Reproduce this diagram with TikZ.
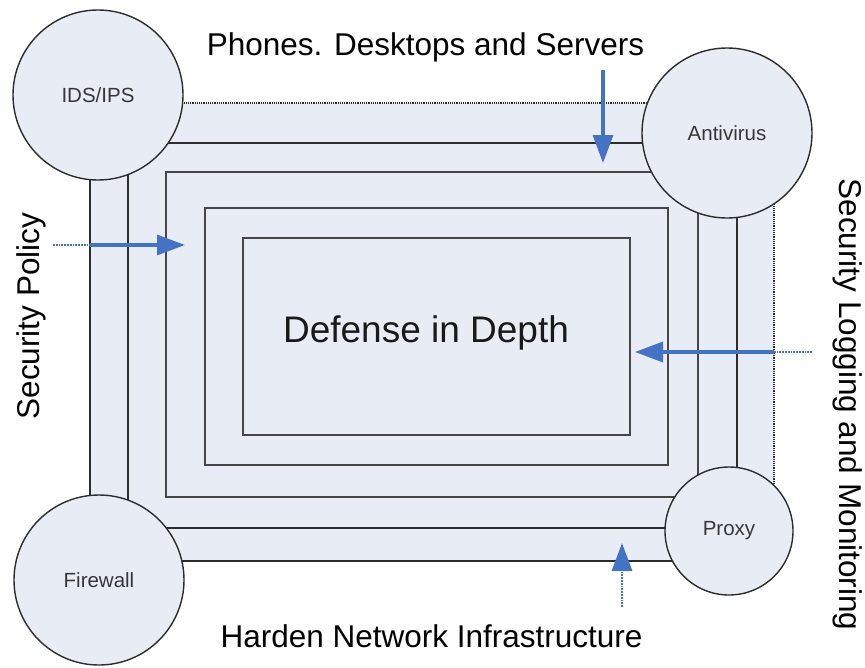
\documentclass[tikz,border=0pt]{standalone}
\usepackage{fontspec}
\setmainfont{Liberation Sans}
\usetikzlibrary{arrows.meta}
\definecolor{layerfill}{RGB}{231,236,245}
\definecolor{linegray}{RGB}{45,45,45}
\definecolor{innergray}{RGB}{70,70,70}
\definecolor{labelgray}{RGB}{55,55,55}
\definecolor{arrowblue}{RGB}{68,114,196}
\tikzset{
  layer/.style={rectangle, fill=layerfill, draw=innergray, line width=1.6pt, inner sep=0pt, outer sep=0pt},
  circ/.style={circle, fill=layerfill, draw=linegray, line width=1.4pt, inner sep=0pt, font=\fontsize{20.5}{24}\selectfont, text=labelgray},
  biglabel/.style={font=\fontsize{31.5}{36}\selectfont, text=black, inner sep=0pt, anchor=base},
  bluearrow/.style={draw=arrowblue, line width=3.2pt, -{Triangle[length=28pt,width=20pt]}},
  bluedots/.style={draw=arrowblue, line width=1.8pt, densely dotted},
}
\begin{document}
\begin{tikzpicture}[x=1pt,y=-1pt]
\useasboundingbox (0,0) rectangle (865,667);
% outer layer
\node[layer, draw=none, minimum width=684pt, minimum height=458pt] (L1) at (432,332) {};
\draw[linegray, line width=1.6pt] (L1.north west) -- (L1.south west) -- (L1.south east);
\draw[linegray, line width=1.2pt, densely dotted] (L1.south east) -- (L1.north east) -- (L1.north west);
% nested layers
\node[layer, draw=linegray, minimum width=609pt, minimum height=385pt] (L2) at (432.5,335.5) {};
\node[layer, minimum width=532pt, minimum height=325pt] (L3) at (432,334.5) {};
\node[layer, minimum width=463pt, minimum height=257pt] (L4) at (436.5,336.5) {};
\node[layer, minimum width=387pt, minimum height=197pt] (L5) at (436.5,336.5) {};
\node[font=\fontsize{37}{42}\selectfont, inner sep=0pt, anchor=base, text=black!90] (did) at (426,342) {Defense in Depth};
% circles
\node[circ, minimum size=170pt] (ids) at (98,95) {IDS/IPS};
\node[circ, minimum size=170pt] (av) at (727,133) {Antivirus};
\node[circ, minimum size=170pt] (fw) at (99,580) {Firewall};
\node[circ, minimum size=128pt] (px) at (729,531) {Proxy};
% outside labels
\node[biglabel] (phones) at (425.5,55) {Phones. Desktops and Servers};
\node[biglabel] (harden) at (431.5,647) {Harden Network Infrastructure};
\node[biglabel, rotate=90] (policy) at (39,316) {Security Policy};
\node[biglabel, rotate=-90] (logging) at (839,404.5) {Security Logging and Monitoring};
% arrow points
\coordinate (tA) at (603,70);
\coordinate (tB) at (603,163);
\coordinate (lA) at (53,245);
\coordinate (lM) at (90,245);
\coordinate (lB) at (185,245);
\coordinate (rA) at (812,352);
\coordinate (rM) at (774,352);
\coordinate (rB) at (635,352);
\coordinate (bA) at (622,607);
\coordinate (bM) at (622,561);
\coordinate (bB) at (622,543);
% arrows
\draw[bluearrow] (tA) -- (tB);
\draw[bluedots] (lA) -- (lM);
\draw[bluearrow] (lM) -- (lB);
\draw[bluedots] (rA) -- (rM);
\draw[bluearrow] (rM) -- (rB);
\draw[bluedots] (bA) -- (bM);
\draw[bluearrow] (bM) -- (bB);
\end{tikzpicture}
\end{document}
